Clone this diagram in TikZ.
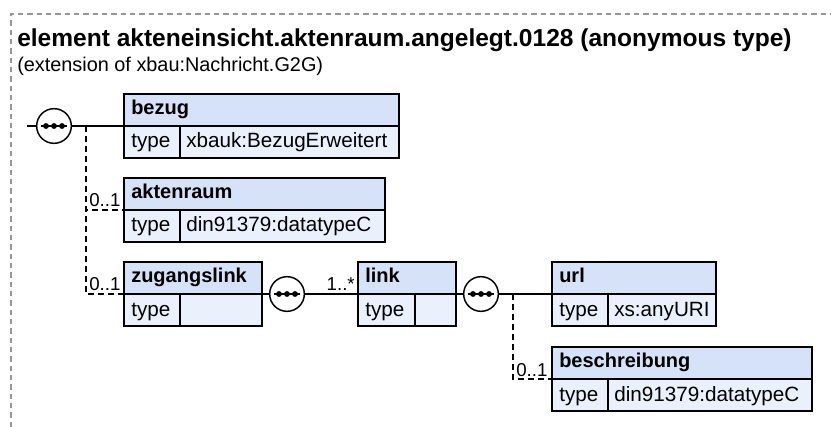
\documentclass[tikz,border=0pt]{standalone}
\usepackage{fontspec}
\setmainfont{Liberation Sans}
\definecolor{hdrfill}{RGB}{214,226,248}
\definecolor{rowfill}{RGB}{234,241,252}
\definecolor{framegray}{RGB}{150,150,150}
\newcommand{\xsdbox}[7]{%
  % #1 name, #2 x1, #3 x2, #4 column x, #5 top, #6 header, #7 type value
  \fill[hdrfill] (#2,#5) rectangle (#3,#5+32);
  \fill[rowfill] (#2,#5+32) rectangle (#3,#5+64);
  \draw[boxline] (#2,#5) rectangle (#3,#5+64);
  \draw[boxline] (#2,#5+32) -- (#3,#5+32);
  \draw[boxline] (#4,#5+32) -- (#4,#5+64);
  \node[hdrtext] (#1-h) at (#2+7,#5+21) {#6};
  \node[celltext] (#1-t) at (#2+7,#5+54) {type};
  \node[celltext] (#1-v) at (#4+6,#5+54) {#7};
  \coordinate (#1-w) at (#2,#5+32);
  \coordinate (#1-e) at (#3,#5+32);
}
\newcommand{\seqsym}[2]{%
  % #1 name, #2 centre
  \node[seqcirc] (#1) at #2 {};
  \draw[line width=1.1pt] ([xshift=-9.5pt]#1.center) -- ([xshift=9.5pt]#1.center);
  \foreach \dx in {-6,0,6} \fill ([xshift=\dx pt]#1.center) circle (2.2pt);
}
\begin{document}
\begin{tikzpicture}[x=0.75pt,y=-0.75pt,
  boxline/.style={draw=black,line width=1.1pt},
  hdrtext/.style={anchor=base west,inner sep=0pt,font=\fontsize{15}{18}\selectfont\bfseries},
  celltext/.style={anchor=base west,inner sep=0pt,font=\fontsize{15.5}{18}\selectfont},
  lbltext/.style={anchor=base west,inner sep=0pt,font=\fontsize{14}{16}\selectfont},
  seqcirc/.style={circle,draw=black,fill=white,line width=1.1pt,minimum size=26pt,inner sep=0pt},
  conn/.style={draw=black,line width=1.1pt},
  optconn/.style={draw=black,line width=1.1pt,dash pattern=on 4.5pt off 3pt}]
\useasboundingbox (0,0) rectangle (831,427);
\draw[framegray,line width=0.8pt,dash pattern=on 4pt off 3pt] (11,427) -- (11,14) -- (831,14);
\node[anchor=base west,inner sep=0pt,font=\fontsize{18.4}{22}\selectfont\bfseries] (title) at (17,47)
  {element akteneinsicht.aktenraum.angelegt.0128 (anonymous type)};
\node[anchor=base west,inner sep=0pt,font=\fontsize{14.9}{18}\selectfont] (subtitle) at (17,72)
  {(extension of xbau:Nachricht.G2G)};

\xsdbox{bezug}{124}{399}{180}{94}{bezug}{xbauk:BezugErweitert}
\xsdbox{akten}{124}{385}{180}{178}{aktenraum}{din91379:datatypeC}
\xsdbox{zug}{124}{262}{180}{262}{zugangslink}{}
\xsdbox{link}{358}{456}{415}{262}{link}{}
\xsdbox{url}{552}{716}{608}{262}{url}{xs:anyURI}
\xsdbox{besch}{552}{812}{608}{347}{beschreibung}{din91379:datatypeC}

\coordinate (in) at (27,126);
\coordinate (s1branch) at (86,126);
\coordinate (s3branch) at (513,294);

% sequence 1
\seqsym{seq1}{(54,126)}
\draw[conn] (in) -- (seq1.west);
\draw[conn] (seq1.east) -- (bezug-w);
\draw[optconn] (s1branch) |- (akten-w);
\draw[optconn] (s1branch) |- (zug-w);
\node[lbltext] (l1) at (89,207) {0..1};
\node[lbltext] (l2) at (89,291) {0..1};

% sequence 2
\seqsym{seq2}{(287,294)}
\draw[conn] (zug-e) -- (seq2.west);
\draw[conn] (seq2.east) -- (link-w);
\node[lbltext,anchor=base east] (l3) at (355,291) {1..*};

% sequence 3
\seqsym{seq3}{(481,294)}
\draw[conn] (link-e) -- (seq3.west);
\draw[conn] (seq3.east) -- (url-w);
\draw[optconn] (s3branch) |- (besch-w);
\node[lbltext] (l4) at (516,376) {0..1};
\end{tikzpicture}
\end{document}
